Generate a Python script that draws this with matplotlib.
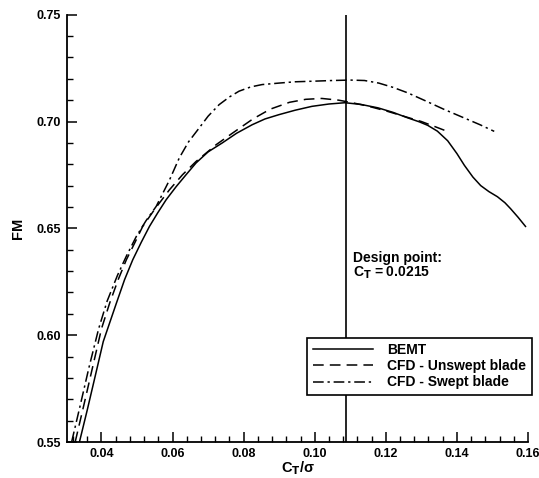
import matplotlib
matplotlib.use("Agg")
import matplotlib.pyplot as plt
from matplotlib.ticker import MultipleLocator, FixedLocator

plt.rcParams['font.family'] = ['Liberation Sans', 'DejaVu Sans']
plt.rcParams['font.weight'] = 'bold'

# BEMT
bemt_x = [0.0338, 0.0360, 0.0382, 0.0405, 0.0442, 0.0465, 0.0488, 0.0512, 0.0535,
          0.0558, 0.0582, 0.0610, 0.0638, 0.0666, 0.0700, 0.0740, 0.0780, 0.0824,
          0.0860, 0.0899, 0.0945, 0.0992, 0.1040, 0.1085, 0.1130, 0.1178, 0.1220,
          0.1262, 0.1295, 0.1318, 0.1345, 0.1374, 0.1400, 0.1421, 0.1445, 0.1467,
          0.1490, 0.1514, 0.1535, 0.1551, 0.1572, 0.1593]
bemt_y = [0.5500, 0.5650, 0.5806, 0.5970, 0.6150, 0.6260, 0.6353, 0.6435, 0.6509,
          0.6572, 0.6634, 0.6695, 0.6751, 0.6806, 0.6858, 0.6900, 0.6945, 0.6985,
          0.7012, 0.7032, 0.7053, 0.7071, 0.7082, 0.7088, 0.7080, 0.7064, 0.7043,
          0.7017, 0.6998, 0.6982, 0.6955, 0.6910, 0.6850, 0.6795, 0.6740, 0.6700,
          0.6672, 0.6648, 0.6620, 0.6592, 0.6552, 0.6509]

# CFD - Unswept blade
unsw_x = [0.0326, 0.0350, 0.0375, 0.0400, 0.0423, 0.0447, 0.0470, 0.0493, 0.0516,
          0.0550, 0.0591, 0.0628, 0.0666, 0.0700, 0.0723, 0.0768, 0.0800, 0.0826,
          0.0875, 0.0929, 0.0975, 0.1020, 0.1067, 0.1100, 0.1150, 0.1200, 0.1250,
          0.1300, 0.1340, 0.1379]
unsw_y = [0.5500, 0.5670, 0.5850, 0.6030, 0.6150, 0.6260, 0.6353, 0.6430, 0.6509,
          0.6590, 0.6680, 0.6751, 0.6813, 0.6860, 0.6892, 0.6945, 0.6982, 0.7012,
          0.7058, 0.7090, 0.7104, 0.7108, 0.7100, 0.7090, 0.7072, 0.7050, 0.7025,
          0.7000, 0.6975, 0.6950]

# CFD - Swept blade
swept_x = [0.0316, 0.0340, 0.0365, 0.0392, 0.0416, 0.0445, 0.0470, 0.0498, 0.0525,
           0.0554, 0.0591, 0.0619, 0.0645, 0.0675, 0.0700, 0.0731, 0.0760, 0.0787,
           0.0820, 0.0852, 0.0900, 0.0945, 0.1000, 0.1050, 0.1100, 0.1140, 0.1180,
           0.1220, 0.1262, 0.1310, 0.1365, 0.1420, 0.1465, 0.1505]
swept_y = [0.5500, 0.5670, 0.5850, 0.6030, 0.6160, 0.6280, 0.6370, 0.6462, 0.6535,
           0.6603, 0.6725, 0.6830, 0.6905, 0.6970, 0.7025, 0.7079, 0.7115, 0.7142,
           0.7162, 0.7173, 0.7180, 0.7186, 0.7189, 0.7192, 0.7194, 0.7192, 0.7180,
           0.7160, 0.7134, 0.7098, 0.7056, 0.7017, 0.6985, 0.6954]

design_x = 0.1088
xticks = [0.04, 0.06, 0.08, 0.10, 0.12, 0.14, 0.16]
yticks = [0.55, 0.60, 0.65, 0.70, 0.75]

fig = plt.figure(figsize=(5.39, 4.78), dpi=100)
ax = fig.add_axes([67/539, 36/478, (528-67)/539, (442-14.7)/478])

ax.plot(bemt_x, bemt_y, color='black', lw=1.1, ls='-', label='BEMT')
ax.plot(unsw_x, unsw_y, color='black', lw=1.1, ls=(0, (7, 4)), label='CFD - Unswept blade')
ax.plot(swept_x, swept_y, color='black', lw=1.1, ls=(0, (7, 2.5, 1.5, 2.5)), label='CFD - Swept blade')
ax.axvline(design_x, color='black', lw=1.2)

ax.set_xlim(0.0303, 0.16)
ax.set_ylim(0.55, 0.75)
ax.spines['top'].set_visible(False)
ax.spines['right'].set_visible(False)
for s in ('left', 'bottom'):
    ax.spines[s].set_linewidth(1.3)

ax.xaxis.set_major_locator(FixedLocator(xticks))
ax.xaxis.set_minor_locator(MultipleLocator(0.004))
ax.yaxis.set_major_locator(FixedLocator(yticks))
ax.yaxis.set_minor_locator(MultipleLocator(0.01))
ax.set_xticklabels([f"{v:.2f}" for v in xticks])
ax.set_yticklabels([f"{v:.2f}" for v in yticks])
ax.tick_params(which='major', direction='in', length=7.2, width=1.1, labelsize=9, pad=4)
ax.tick_params(which='minor', direction='in', length=4.2, width=1.0)
ax.tick_params(axis='y', which='major', pad=4.5)

ax.set_xlabel('C$_\\mathbf{T}$/\u03c3', fontsize=10.5, fontweight='bold', labelpad=0)
ax.set_ylabel('FM', fontsize=10.5, fontweight='bold', labelpad=8)

ax.text(0.1109, 0.6362, 'Design point:', fontsize=10, fontweight='bold', va='center', ha='left')
ax.text(0.1109, 0.6290, 'C$_\\mathbf{T}$ = 0.0215', fontsize=10, fontweight='bold', va='center', ha='left')

leg = ax.legend(loc='upper left', bbox_to_anchor=((307.3-67)/461, (442-337.7)/427.3),
                frameon=True, fancybox=False, edgecolor='black', framealpha=1,
                fontsize=10, handlelength=4.3, handletextpad=1.05, labelspacing=0.15,
                borderpad=0.4, borderaxespad=0)
leg.get_frame().set_linewidth(1.2)

fig.savefig('out.png', dpi=100)
